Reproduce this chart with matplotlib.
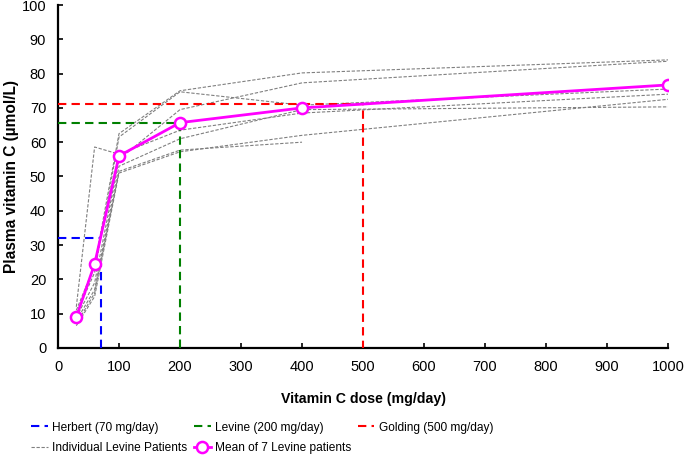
import matplotlib
matplotlib.use("Agg")
import matplotlib.pyplot as plt
import numpy as np

plt.rcParams['font.family'] = ['Liberation Sans', 'DejaVu Sans']

# doses studied by Levine (mg/day)
doses = [30, 60, 100, 200, 400, 1000]

# individual patients (plasma vitamin C, umol/L); one patient has no 1000 mg value
patients = [
    [11, 24, 62.5, 75.0, 80.2, 84.0],
    [10, 22, 61.5, 74.7, 70.8, 75.5],
    [9, 19, 55.0, 69.5, 77.3, 83.6],
    [12, 58.6, 56.5, 63.5, 68.5, 74.0],
    [8, 17, 53.0, 61.0, 69.5, 70.3],
    [7, 16, 51.5, 57.7, 60.0, None],
    [6.5, 15, 51.0, 57.2, 62.0, 72.5],
]

# mean of the 7 patients
mean_vals = [9, 24.5, 56, 65.7, 70, 76.7]

# recommendations: (dose, plasma level)
herbert = (70, 32)
herbert_vert_top = 24
levine = (200, 65.7)
golding = (500, 71)

fig = plt.figure(figsize=(6.85, 4.55), dpi=100)
ax = fig.add_axes([0.0847, 0.2352, 0.8905, 0.7538])

# individual patients
ind_handle = None
for p in patients:
    xs = [d for d, v in zip(doses, p) if v is not None]
    ys = [v for v in p if v is not None]
    ind_handle, = ax.plot(xs, ys, color='#808080', lw=0.8, ls=(0, (3, 1.5)), zorder=2,
                          label='Individual Levine Patients')

# reference lines
dash = (0, (4, 2.5))
h_herb, = ax.plot([0, herbert[0]], [herbert[1], herbert[1]], color='#0000FF', lw=1.5, ls=dash,
                  zorder=3, label='Herbert (70 mg/day)')
ax.plot([herbert[0], herbert[0]], [0, herbert_vert_top], color='#0000FF', lw=1.5, ls=dash, zorder=3)

h_lev, = ax.plot([0, levine[0], levine[0]], [levine[1], levine[1], 0], color='#008000', lw=1.5,
                 ls=dash, zorder=3, label='Levine (200 mg/day)')
h_gold, = ax.plot([0, golding[0], golding[0]], [golding[1], golding[1], 0], color='#FF0000', lw=1.5,
                  ls=dash, zorder=3, label='Golding (500 mg/day)')

# mean
h_mean, = ax.plot(doses, mean_vals, color='#FF00FF', lw=2, marker='o', ms=8, mfc='white',
                  mew=1.8, zorder=5, label='Mean of 7 Levine patients')

ax.set_xlim(0, 1000)
ax.set_ylim(0, 100)
ax.set_xticks(np.arange(0, 1001, 100))
ax.set_yticks(np.arange(0, 101, 10))
ax.tick_params(direction='in', length=3.5, width=1.2, labelsize=10.5, pad=8.5)
for s in ['top', 'right']:
    ax.spines[s].set_visible(False)
for s in ['left', 'bottom']:
    ax.spines[s].set_linewidth(1.6)

ax.set_xlabel('Vitamin C dose (mg/day)', fontsize=10.2, fontweight='bold', labelpad=13)
ax.set_ylabel('Plasma vitamin C (µmol/L)', fontsize=11.2, fontweight='bold', labelpad=2)

handles = [h_herb, ind_handle, h_lev, h_mean, h_gold]
fig.legend(handles, [h.get_label() for h in handles], ncol=3, frameon=False,
           loc='lower left', bbox_to_anchor=(0.037, -0.012), borderpad=0, fontsize=8.6,
           handlelength=1.4, handletextpad=0.35, columnspacing=0.55, labelspacing=0.75)

fig.savefig('out.png', dpi=100)
